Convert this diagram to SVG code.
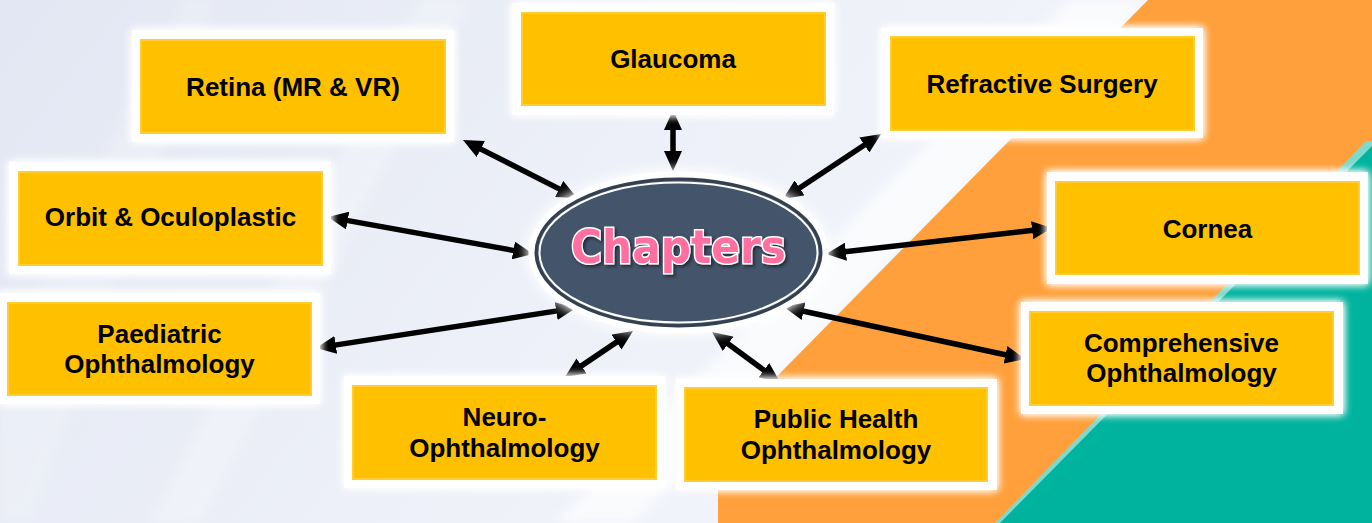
<svg xmlns="http://www.w3.org/2000/svg" width="1372" height="523" viewBox="0 0 1372 523">
<style>
.frame{fill:#ffffff;filter:url(#glow)}
.box{fill:#FFC000;stroke:#FFCC33;stroke-width:2}
.lbl{font-family:"Liberation Sans",Arial,sans-serif;font-weight:bold;font-size:26px;fill:#000000;text-anchor:middle}
.conn{stroke:#000000;stroke-width:5.5;fill:none;marker-start:url(#ah);marker-end:url(#ah)}
</style>
<defs>
<linearGradient id="bg" x1="0" y1="0" x2="1" y2="0.3">
<stop offset="0" stop-color="#e3e7f3"/>
<stop offset="0.5" stop-color="#edf0f8"/>
<stop offset="1" stop-color="#f4f6fb"/>
</linearGradient>
<filter id="glow" x="-10%" y="-20%" width="120%" height="140%">
<feGaussianBlur in="SourceGraphic" stdDeviation="4" result="b"/>
<feMerge><feMergeNode in="b"/><feMergeNode in="b"/><feMergeNode in="SourceGraphic"/></feMerge>
</filter>
<filter id="soft" x="-10%" y="-10%" width="120%" height="120%">
<feGaussianBlur stdDeviation="6"/>
</filter>
<filter id="tsh" x="-10%" y="-20%" width="120%" height="140%">
<feDropShadow dx="2" dy="2" stdDeviation="1.5" flood-color="#1a2230" flood-opacity="0.8"/>
</filter>
<marker id="ah" markerUnits="userSpaceOnUse" markerWidth="20" markerHeight="18" refX="1" refY="9" orient="auto-start-reverse" viewBox="0 0 20 18">
<path d="M0,0 L20,9 L0,18 z" fill="#000000"/>
</marker>
</defs>

<g id="background">
<rect x="0" y="0" width="1372" height="523" fill="url(#bg)"/>
<polygon points="150,523 420,0 470,0 200,523" fill="#ffffff" opacity="0.25" filter="url(#soft)"/>
<polygon points="0,360 185,0 215,0 30,523 0,523" fill="#ffffff" opacity="0.2" filter="url(#soft)"/>
<polygon points="1070,0 1148,0 633,523 555,523" fill="#ffffff" opacity="0.7" filter="url(#soft)"/>
<polygon points="1148,0 1372,0 1372,523 718,523 718,436" fill="#FFA03C"/>
<polygon points="1366,141 1372,141 1372,523 995,523" fill="#7fd9cd"/>
<polygon points="1372,146 1372,523 1000,523" fill="#00B39E"/>
</g>

<g id="connectors">
<line class="conn" x1="479.9" y1="148.6" x2="560.1" y2="189.4"/>
<line class="conn" x1="673" y1="129" x2="673" y2="152"/>
<line class="conn" x1="865.2" y1="144.5" x2="798.8" y2="188.5"/>
<line class="conn" x1="346.7" y1="220.4" x2="514.3" y2="250.6"/>
<line class="conn" x1="844.9" y1="251.8" x2="1033.1" y2="230.2"/>
<line class="conn" x1="334.8" y1="345.1" x2="557.2" y2="310.9"/>
<line class="conn" x1="580.7" y1="366.4" x2="617.3" y2="341.6"/>
<line class="conn" x1="727.3" y1="343.2" x2="764.7" y2="370.8"/>
<line class="conn" x1="802.6" y1="311" x2="1006.4" y2="355"/>
</g>

<g id="chapters">
<ellipse cx="678.5" cy="252.5" rx="152" ry="83" fill="#ffffff" filter="url(#soft)"/>
<ellipse cx="678.5" cy="252.5" rx="150" ry="81" fill="#ffffff"/>
<ellipse cx="678.5" cy="252.5" rx="142.5" ry="73.5" fill="#44546A" stroke="#34404f" stroke-width="3"/>
<ellipse cx="678.5" cy="252.5" rx="139" ry="70" fill="none" stroke="#ffffff" stroke-width="2"/>
<text x="678.5" y="263" text-anchor="middle" font-family="'DejaVu Sans',Verdana,sans-serif" font-weight="bold" font-size="46" textLength="215" lengthAdjust="spacingAndGlyphs" fill="#FF6FA0" stroke="#ffffff" stroke-width="3" paint-order="stroke" filter="url(#tsh)">Chapters</text>
</g>

<g id="retina">
<rect class="frame" x="132" y="30" width="322" height="112"/>
<rect class="box" x="141" y="40" width="304" height="93"/>
<text class="lbl" x="293" y="96">Retina (MR &amp; VR)</text>
</g>

<g id="glaucoma">
<rect class="frame" x="512" y="3" width="322" height="112"/>
<rect class="box" x="522" y="13" width="303" height="92"/>
<text class="lbl" x="673" y="68">Glaucoma</text>
</g>

<g id="refractive">
<rect class="frame" x="881" y="28" width="322" height="110"/>
<rect class="box" x="891" y="37" width="303" height="93"/>
<text class="lbl" x="1042" y="93">Refractive Surgery</text>
</g>

<g id="orbit">
<rect class="frame" x="9" y="162" width="322" height="112"/>
<rect class="box" x="19" y="172" width="303" height="93"/>
<text class="lbl" x="170.5" y="226">Orbit &amp; Oculoplastic</text>
</g>

<g id="cornea">
<rect class="frame" x="1047" y="172" width="321" height="112"/>
<rect class="box" x="1056" y="182" width="303" height="92"/>
<text class="lbl" x="1207.5" y="238">Cornea</text>
</g>

<g id="paediatric">
<rect class="frame" x="-2" y="293" width="322" height="111"/>
<rect class="box" x="8" y="303" width="303" height="92"/>
<text class="lbl" x="159.5" y="343">Paediatric</text>
<text class="lbl" x="159.5" y="373">Ophthalmology</text>
</g>

<g id="comprehensive">
<rect class="frame" x="1021" y="302" width="322" height="112"/>
<rect class="box" x="1030" y="312" width="303" height="93"/>
<text class="lbl" x="1181.5" y="352">Comprehensive</text>
<text class="lbl" x="1181.5" y="382">Ophthalmology</text>
</g>

<g id="neuro">
<rect class="frame" x="344" y="376" width="321" height="112"/>
<rect class="box" x="353" y="386" width="303" height="93"/>
<text class="lbl" x="504.5" y="426">Neuro-</text>
<text class="lbl" x="504.5" y="457">Ophthalmology</text>
</g>

<g id="publichealth">
<rect class="frame" x="676" y="379" width="321" height="111"/>
<rect class="box" x="685" y="388" width="302" height="93"/>
<text class="lbl" x="836" y="428">Public Health</text>
<text class="lbl" x="836" y="459">Ophthalmology</text>
</g>
</svg>
